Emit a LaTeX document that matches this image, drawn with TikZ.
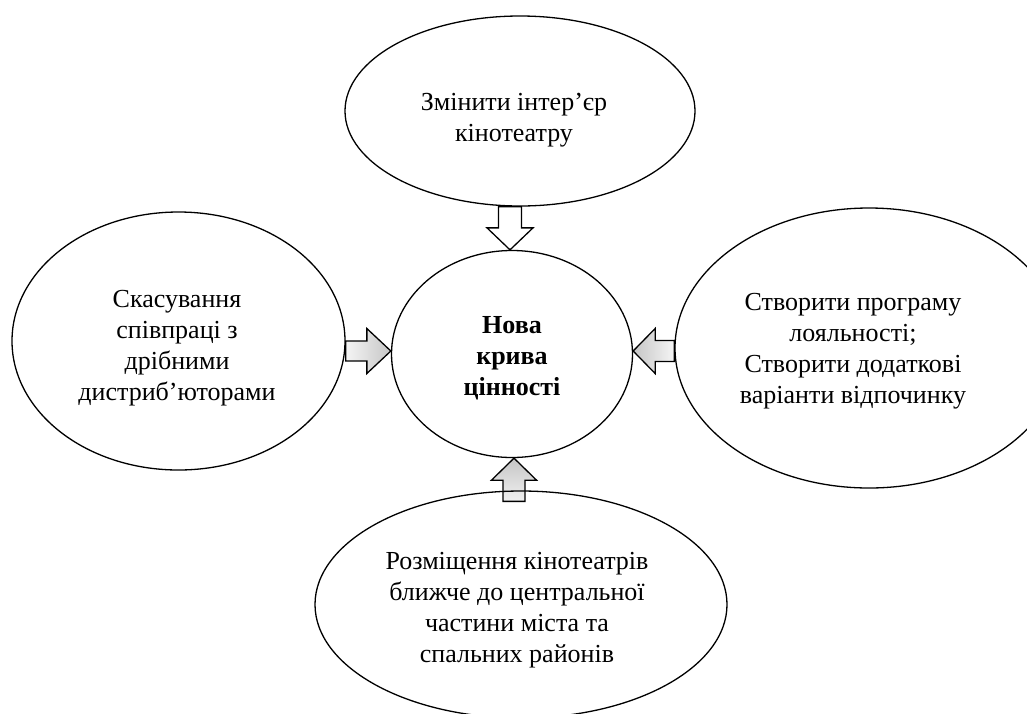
\documentclass[tikz,border=0pt]{standalone}
\usepackage{fontspec}
\setmainfont{Liberation Serif}
\usetikzlibrary{shapes.geometric,calc,backgrounds}
\begin{document}
\begin{tikzpicture}[x=1pt,y=-1pt,
  oval/.style={draw, line width=1.3pt, ellipse, inner sep=0pt},
  txt/.style={align=center, inner sep=0pt, font=\fontsize{26}{31}\selectfont},
  blockarrow/.style={draw, line width=1.3pt, line join=miter, miter limit=10}
]
\useasboundingbox (0,0) rectangle (1027,713);

% the five ovals
\begin{scope}
  \clip (0,0) rectangle (1027,713);
  \node[oval, minimum width=350, minimum height=190] (top) at (520,111) {};
  \node[oval, minimum width=333, minimum height=258] (left) at (178.5,341) {};
  \node[oval, minimum width=388, minimum height=280] (right) at (869,348) {};
  \node[oval, minimum width=241, minimum height=207] (core) at (512,354) {};
  \node[oval, minimum width=412, minimum height=227] (bottom) at (521,604.5) {};
\end{scope}

% texts
\node[txt] (ttop) at (514,120) {Змінити інтер’єр\\кінотеатру};
\node[txt] (tleft) at (177,348) {Скасування\\співпраці з\\дрібними\\дистриб’юторами};
\node[txt] (tright) at (853,351) {Створити програму\\лояльності;\\Створити додаткові\\варіанти відпочинку};
\node[txt, font=\fontsize{26}{31}\selectfont\bfseries] (tcore) at (512,358) {Нова\\крива\\цінності};
\node[txt] (tbottom) at (517,610) {Розміщення кінотеатрів\\ближче до центральної\\частини міста та\\спальних районів};

% block arrows pointing to the centre
\begin{scope}[on background layer]
  % from the top oval (white)
  \draw[blockarrow, fill=white] let \p1=(top.south), \p2=(core.north) in
    (\x2-2-11.5,\y1) -- (\x2-2+11.5,\y1) -- (\x2-2+11.5,\y2+22) -- (\x2-2+23,\y2+22)
    -- (\x2-2,\y2) -- (\x2-2-23,\y2+22) -- (\x2-2-11.5,\y2+22) -- cycle;
  % from the left oval
  \draw[blockarrow, left color=gray!8, right color=gray!45] let \p1=(left.east), \p2=(core.west) in
    (\x1,\y2+3+10) -- (\x2-24,\y2+3+10) -- (\x2-24,\y2+3+22.5) -- (\x2,\y2+3)
    -- (\x2-24,\y2+3-22.5) -- (\x2-24,\y2+3-10) -- (\x1,\y2+3-10) -- cycle;
  % from the right oval
  \draw[blockarrow, left color=gray!45, right color=gray!8] let \p1=(right.west), \p2=(core.east) in
    (\x1,\y2+3+10.5) -- (\x2+22,\y2+3+10.5) -- (\x2+22,\y2+3+22.5) -- (\x2,\y2+3)
    -- (\x2+22,\y2+3-22.5) -- (\x2+22,\y2+3-10.5) -- (\x1,\y2+3-10.5) -- cycle;
  % from the bottom oval
  \draw[blockarrow, top color=gray!45, bottom color=gray!12] let \p1=(bottom.north), \p2=(core.south) in
    (\x2+2-11,\y1-11) -- (\x2+2+11,\y1-11) -- (\x2+2+11,\y2-22) -- (\x2+2+22.5,\y2-22)
    -- (\x2+2,\y2) -- (\x2+2-22.5,\y2-22) -- (\x2+2-11,\y2-22) -- cycle;
\end{scope}
\end{tikzpicture}
\end{document}
